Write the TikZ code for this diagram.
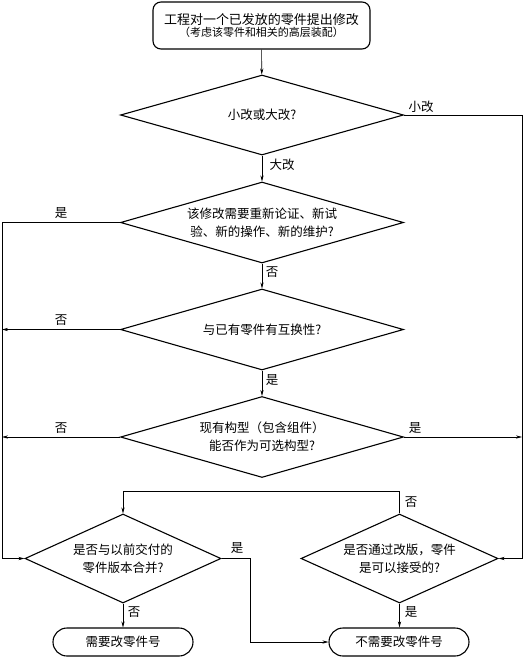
\documentclass[tikz,border=0pt]{standalone}
\usepackage{fontspec}
\setmainfont{Noto Sans CJK SC}
\usetikzlibrary{shapes.geometric,arrows.meta}
\begin{document}
\begin{tikzpicture}[x=1pt,y=-1pt,
  txt/.style={font=\fontsize{12.5}{18}\selectfont, align=center},
  lbl/.style={font=\fontsize{12.5}{15}\selectfont, inner sep=0pt},
  dia/.style={draw, diamond, line width=1.1pt, inner sep=0pt, txt},
  term/.style={draw, rounded corners=14pt, line width=1.1pt, minimum width=140pt, minimum height=28pt, inner sep=0pt, txt},
  conn/.style={line width=0.6pt},
  arr/.style={conn, -{Stealth[length=6pt,width=3.2pt]}}]
\useasboundingbox (0,0) rectangle (529,657);
\node[draw, rounded corners=8pt, line width=1.1pt, minimum width=217pt, minimum height=47pt, inner sep=0pt, align=center] (top) at (261.5,25.5)
  {{\fontsize{13}{18}\selectfont 工程对一个已发放的零件提出修改}\\[0pt]{\fontsize{11}{14}\selectfont （考虑该零件和相关的高层装配）}};
\node[dia, aspect=3.5, minimum width=283pt, minimum height=80pt] (d1) at (262,115) {小改或大改?};
\node[dia, aspect=3.5, minimum width=283pt, minimum height=81pt] (d2) at (262,222.5) {该修改需要重新论证、新试\\验、新的操作、新的维护?};
\node[dia, aspect=3.5, minimum width=283pt, minimum height=81pt] (d3) at (262,329.5) {与已有零件有互换性?};
\node[dia, aspect=3.5, minimum width=283pt, minimum height=81pt] (d4) at (262,437) {现有构型（包含组件）\\能否作为可选构型?};
\node[dia, aspect=2.2, minimum width=196pt, minimum height=89pt] (d5) at (123,558.5) {是否与以前交付的\\零件版本合并?};
\node[dia, aspect=2.2, minimum width=197pt, minimum height=89pt] (d6) at (399.5,558.5) {是否通过改版，零件\\是可以接受的?};
\node[term] (e1) at (123,642) {需要改零件号};
\node[term] (e2) at (399,642) {不需要改零件号};
\coordinate (R1) at (522,115);
\coordinate (R2) at (522,558.5);
\coordinate (L1) at (2,222.5);
\coordinate (L2) at (2,558.5);
\coordinate (M) at (250,558.5);
\draw[arr] (top) -- (d1);
\draw[arr] (d1) -- (d2);
\draw[arr] (d2) -- (d3);
\draw[arr] (d3) -- (d4);
\draw[arr] (d1.east) -- (R1) -- (R2) -- (d6.east);
\draw[arr] (d4.east) -- (d4.east -| R1);
\draw[arr] (d2.west) -- (L1) -- (L2) -- (d5.west);
\draw[arr] (d3.west) -- (d3.west -| L1);
\draw[arr] (d4.west) -- (d4.west -| L1);
\draw[arr] (d6.north) -- ++(0,-22) -| (d5.north);
\draw[arr] (d5.east) -- (M) |- (e2.west);
\draw[arr] (d5) -- (e1);
\draw[arr] (d6.south) -- (d6.south |- e2.north);
\node[lbl] (l1) at (421,107) {小改};
\node[lbl] (l2) at (282,165) {大改};
\node[lbl] (l3) at (61,213) {是};
\node[lbl] (l4) at (272,272) {否};
\node[lbl] (l5) at (61,320) {否};
\node[lbl] (l6) at (272,380) {是};
\node[lbl] (l7) at (61,428) {否};
\node[lbl] (l8) at (415,428) {是};
\node[lbl] (l9) at (411,502) {否};
\node[lbl] (l10) at (237,548) {是};
\node[lbl] (l11) at (134,612) {否};
\node[lbl] (l12) at (411,612) {是};
\end{tikzpicture}
\end{document}
